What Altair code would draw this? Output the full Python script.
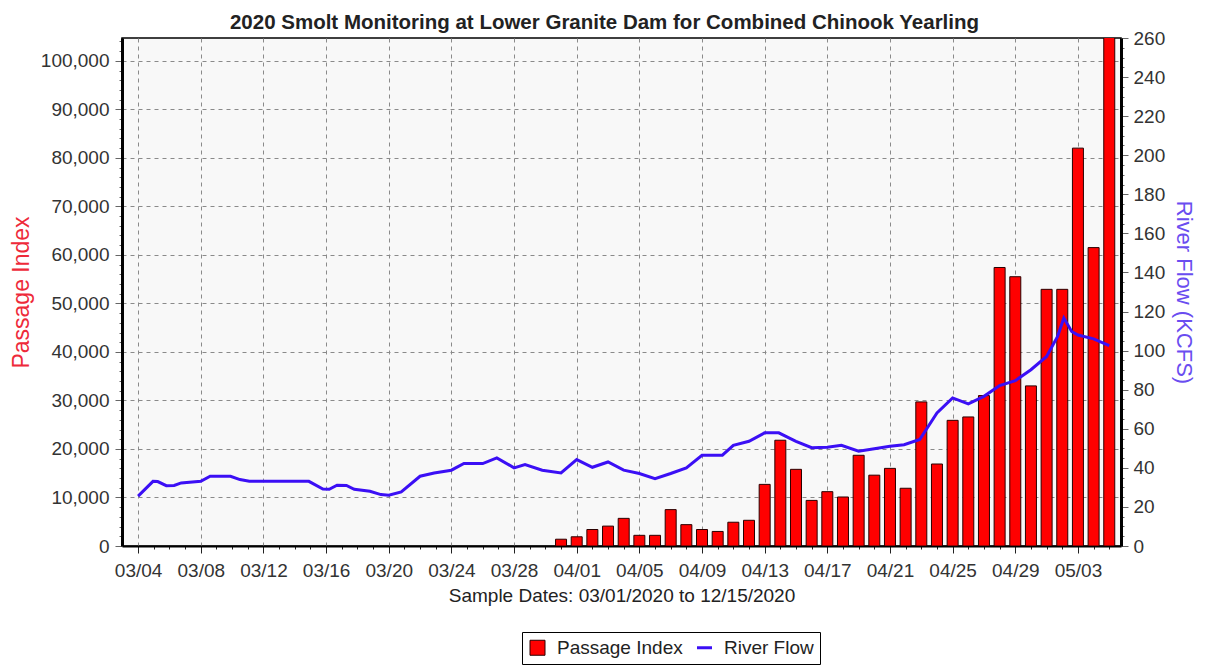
import json
import altair as alt
import pandas as pd

FONT = "Liberation Sans"
TITLE = "2020 Smolt Monitoring at Lower Granite Dam for Combined Chinook Yearling"
X_TITLE = "Sample Dates: 03/01/2020 to 12/15/2020"
LEFT_TITLE = "Passage Index"
RIGHT_TITLE = "River Flow (KCFS)"
SERIES = ["Passage Index", "River Flow"]

# Passage index bars (daily)
bar_dates = ["03/31", "04/01", "04/02", "04/03", "04/04", "04/05", "04/06", "04/07",
             "04/08", "04/09", "04/10", "04/11", "04/12", "04/13", "04/14", "04/15",
             "04/16", "04/17", "04/18", "04/19", "04/20", "04/21", "04/22", "04/23",
             "04/24", "04/25", "04/26", "04/27", "04/28", "04/29", "04/30", "05/01",
             "05/02", "05/03", "05/04", "05/05"]
passage = [1400, 1900, 3400, 4100, 5700, 2200, 2200, 7500,
           4400, 3400, 3000, 4900, 5300, 12700, 21800, 15800,
           9400, 11200, 10100, 18700, 14600, 16000, 11900, 29700,
           16900, 25900, 26600, 31000, 57400, 55500, 33000, 52900,
           52900, 82000, 61500, 128000]

# River flow (KCFS); position in days after 03/01/2020
flow_day = [3.0, 3.95, 4.25, 4.8, 5.3, 5.75, 7.0, 7.6, 8.9, 9.5, 10.1, 13.9, 14.8,
            15.2, 15.7, 16.3, 16.8, 17.8, 18.5, 19.0, 19.8, 21.0, 21.9, 23.0, 23.8,
            25.0, 25.9, 27.0, 27.7, 28.8, 30.0, 31.0, 32.0, 33.0, 34.0, 35.0, 36.0,
            37.0, 38.0, 39.0, 40.3, 41.0, 42.0, 43.0, 43.9, 45.0, 46.0, 47.0, 47.9,
            49.0, 50.0, 51.0, 51.9, 52.9, 54.0, 55.0, 56.0, 57.0, 58.0, 59.0, 60.0,
            61.0, 61.7, 62.1, 62.6, 63.0, 64.0, 65.0]
flow_kcfs = [25.5, 33.1, 33.0, 30.9, 31.0, 32.3, 33.1, 35.7, 35.7, 34.0, 33.1, 33.1, 29.2,
             29.0, 31.1, 31.0, 29.0, 28.0, 26.3, 26.0, 27.7, 35.7, 37.4, 38.8, 42.2,
             42.2, 45.1, 40.0, 41.7, 38.8, 37.4, 44.2, 40.3, 43.0, 38.8, 37.1, 34.5,
             37.1, 40.0, 46.4, 46.5, 51.5, 53.6, 57.9, 57.9, 53.6, 50.3, 50.5, 51.5,
             48.5, 49.8, 51.0, 51.8, 54.5, 68.1, 75.8, 72.7, 76.6, 82.1, 84.6, 90.2,
             97.0, 107.3, 116.7, 109.8, 108.0, 106.0, 102.5]

x_tick_labels = ["03/04", "03/08", "03/12", "03/16", "03/20", "03/24", "03/28", "04/01",
                 "04/05", "04/09", "04/13", "04/17", "04/21", "04/25", "04/29", "05/03"]

start = pd.Timestamp("2020-03-01")
bar_df = pd.DataFrame({
    "day": [(pd.Timestamp("2020/" + d) - start).days for d in bar_dates],
    "passage": passage,
    "series": SERIES[0],
})
flow_df = pd.DataFrame({"day": flow_day, "flow": flow_kcfs, "series": SERIES[1]})
legend_df = pd.DataFrame({"day": [10, 10], "series": SERIES})

X_FIRST = 3
x_major = f"(datum.value - {X_FIRST}) % 4 == 0"
x_axis = alt.Axis(
    values=list(range(3, 66)),
    labelExpr=f"({x_major}) ? {json.dumps(x_tick_labels)}[(datum.value - {X_FIRST}) / 4] : ''",
    labelOverlap=False, labelFlush=False, labelFontSize=19, labelColor="#333",
    labelPadding=8,
    tickSize={"condition": {"test": x_major, "value": 7}, "value": 3},
    tickColor="#222",
    grid=True,
    gridOpacity={"condition": {"test": x_major, "value": 1}, "value": 0},
    gridDash=[4, 4], gridColor="#8a8a8a", gridWidth=1,
    domainColor="black", domainWidth=2,
    title=X_TITLE, titleFontSize=19, titleFontWeight="normal", titleColor="#222",
    titleX=499.5, titleY=49, titleAlign="center", titleBaseline="middle",
)
x_enc = alt.X("day:Q", scale=alt.Scale(domain=[2.29, 65.43], nice=False, zero=False), axis=x_axis)

y_major = "datum.value % 10000 == 0"
left_axis = alt.Axis(
    values=list(range(0, 104001, 2000)),
    labelExpr=f"({y_major}) ? format(datum.value, ',') : ''",
    labelOverlap=False, labelFlush=False, labelFontSize=19, labelColor="#333",
    labelPadding=6,
    tickSize={"condition": {"test": y_major, "value": 7}, "value": 3},
    tickColor="#666",
    grid=True,
    gridOpacity={"condition": {"test": y_major, "value": 1}, "value": 0},
    gridDash=[4, 4], gridColor="#8a8a8a", gridWidth=1,
    domainColor="black", domainWidth=3,
    title=LEFT_TITLE, titleFontSize=23, titleFontWeight="normal", titleColor="#ee2a3a",
    titleX=-101, titleY=254, titleAngle=270, titleAlign="center", titleBaseline="middle",
)
r_major = "datum.value % 20 == 0"
right_axis = alt.Axis(
    orient="right",
    values=list(range(0, 261, 5)),
    labelExpr=f"({r_major}) ? format(datum.value, 'd') : ''",
    labelOverlap=False, labelFlush=False, labelFontSize=19, labelColor="#333",
    labelPadding=5,
    tickSize={"condition": {"test": r_major, "value": 7}, "value": 3},
    tickColor="#666",
    grid=False,
    domainColor="black", domainWidth=3,
    title=RIGHT_TITLE, titleFontSize=22, titleFontWeight="normal", titleColor="#6a4df0",
    titleX=62, titleY=254, titleAngle=90, titleAlign="center", titleBaseline="middle",
)

legend = alt.Legend(
    title=None, orient="none", legendX=400, legendY=594, direction="horizontal",
    fillColor="white", strokeColor="black", padding=6,
    labelFontSize=19, labelFont=FONT, labelColor="#222", labelOffset=10,
    symbolSize=225, symbolOpacity=1, columnPadding=8,
)
fill_scale = alt.Scale(domain=SERIES, range=["#ff0000", "#3b0ff5"])
stroke_scale = alt.Scale(domain=SERIES, range=["#2a0000", "#3b0ff5"])

bars = alt.Chart(bar_df).mark_bar(size=11, strokeWidth=1, clip=True).encode(
    x=x_enc,
    y=alt.Y("passage:Q", scale=alt.Scale(domain=[0, 104700], nice=False, zero=True), axis=left_axis),
    fill=alt.Fill("series:N", scale=fill_scale, legend=legend),
    stroke=alt.Stroke("series:N", scale=stroke_scale, legend=legend),
)
line = alt.Chart(flow_df).mark_line(strokeWidth=3).encode(
    x=x_enc,
    y=alt.Y("flow:Q", scale=alt.Scale(domain=[0, 260], nice=False, zero=True), axis=right_axis),
    stroke=alt.Stroke("series:N", scale=stroke_scale, legend=legend),
)
legend_pts = alt.Chart(legend_df).mark_point(opacity=0, filled=True).encode(
    x=x_enc,
    fill=alt.Fill("series:N", scale=fill_scale, legend=legend),
    stroke=alt.Stroke("series:N", scale=stroke_scale, legend=legend),
    shape=alt.Shape("series:N", scale=alt.Scale(domain=SERIES, range=["square", "stroke"]), legend=legend),
    strokeWidth=alt.StrokeWidth("series:N", scale=alt.Scale(domain=SERIES, range=[1, 3]), legend=legend),
)

chart = alt.layer(bars, line, legend_pts).resolve_scale(y="independent").properties(
    width=999, height=508,
    title=alt.TitleParams(TITLE, font=FONT, fontSize=20.5, fontWeight="bold", color="#222",
                          anchor="middle", frame="group", dx=-17, dy=35, offset=15,
                          baseline="alphabetic"),
    autosize=alt.AutoSizeParams(type="none"),
    padding={"left": 114, "top": 30, "right": 76, "bottom": 120},
).configure(font=FONT).configure_view(fill="#f8f8f8", stroke="black", strokeWidth=1.5)

chart.save("out.html", embed_options={"renderer": "svg", "actions": False})
